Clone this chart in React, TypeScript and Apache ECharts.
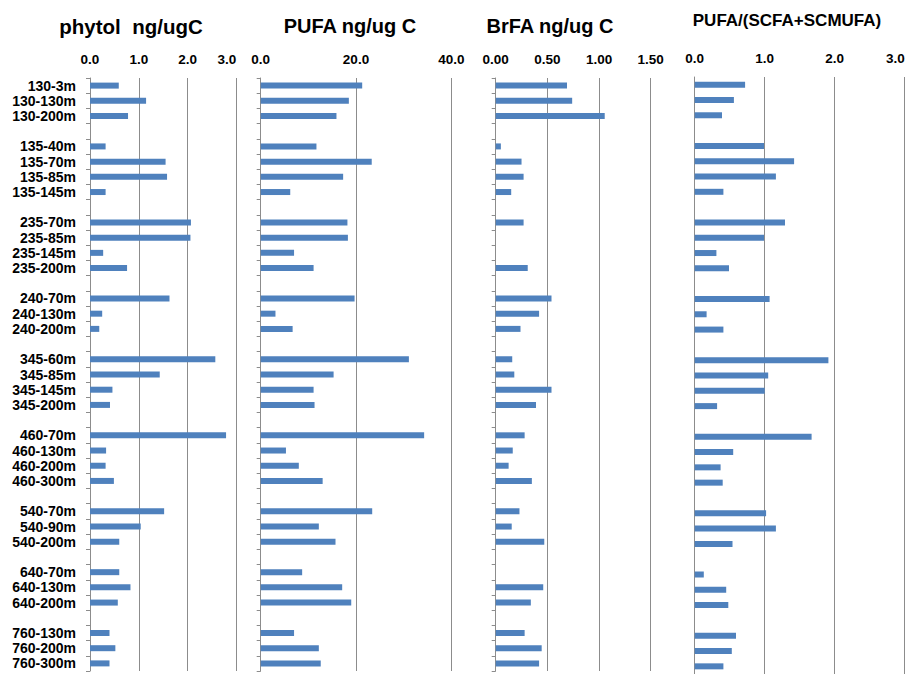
import React, { useEffect, useRef } from "react";
import * as echarts from "echarts";

const categories = [
  "130-3m", "130-130m", "130-200m", "",
  "135-40m", "135-70m", "135-85m", "135-145m", "",
  "235-70m", "235-85m", "235-145m", "235-200m", "",
  "240-70m", "240-130m", "240-200m", "",
  "345-60m", "345-85m", "345-145m", "345-200m", "",
  "460-70m", "460-130m", "460-200m", "460-300m", "",
  "540-70m", "540-90m", "540-200m", "",
  "640-70m", "640-130m", "640-200m", "",
  "760-130m", "760-200m", "760-300m",
];

const phytol = [
  0.59, 1.15, 0.78, null,
  0.32, 1.55, 1.58, 0.32, null,
  2.07, 2.06, 0.27, 0.76, null,
  1.63, 0.25, 0.19, null,
  2.57, 1.43, 0.46, 0.41, null,
  2.79, 0.33, 0.32, 0.49, null,
  1.52, 1.04, 0.6, null,
  0.6, 0.83, 0.57, null,
  0.4, 0.52, 0.4,
];

const pufa = [
  21.3, 18.5, 15.9, null,
  11.7, 23.3, 17.3, 6.2, null,
  18.2, 18.3, 7.0, 11.1, null,
  19.7, 3.1, 6.7, null,
  31.1, 15.3, 11.1, 11.3, null,
  34.3, 5.3, 8.0, 13.0, null,
  23.4, 12.2, 15.7, null,
  8.7, 17.1, 19.0, null,
  7.0, 12.2, 12.6,
];

const brfa = [
  0.69, 0.74, 1.055, null,
  0.05, 0.25, 0.27, 0.15, null,
  0.27, null, null, 0.31, null,
  0.54, 0.42, 0.24, null,
  0.16, 0.18, 0.54, 0.39, null,
  0.28, 0.165, 0.125, 0.35, null,
  0.23, 0.155, 0.47, null,
  null, 0.46, 0.34, null,
  0.28, 0.445, 0.42,
];

const ratio = [
  0.72, 0.56, 0.39, null,
  0.99, 1.42, 1.16, 0.41, null,
  1.29, 0.99, 0.31, 0.49, null,
  1.07, 0.17, 0.41, null,
  1.91, 1.05, 1.0, 0.32, null,
  1.67, 0.55, 0.37, 0.4, null,
  1.02, 1.16, 0.54, null,
  0.13, 0.45, 0.48, null,
  0.59, 0.53, 0.41,
];

const titles = ["phytol  ng/ugC", "PUFA ng/ug C", "BrFA ng/ug C", "PUFA/(SCFA+SCMUFA)"];

const FONT = "'Liberation Sans', Arial, sans-serif";
const BAR = "#4F81BD";
const GRID = "#8c8c8c";

export default function App() {
  const ref = useRef<HTMLDivElement>(null);
  useEffect(() => {
    if (!ref.current) return;
    const chart = echarts.init(ref.current, null, { renderer: "svg" });

    const grids = [
      { left: 90, top: 78, width: 146.3, height: 593 },
      { left: 260.7, top: 78, width: 190.6, height: 593 },
      { left: 495.7, top: 78, width: 155, height: 593 },
      { left: 694.7, top: 77, width: 210, height: 601 },
    ];
    const xSpecs = [
      { max: 3, interval: 1, digits: 1, alignMax: "right" },
      { max: 40, interval: 20, digits: 1, alignMax: undefined },
      { max: 1.5, interval: 0.5, digits: 2, alignMax: undefined },
      { max: 3, interval: 1, digits: 1, alignMax: "right" },
    ];
    const seriesData = [phytol, pufa, brfa, ratio];

    const option: any = {
      animation: false,
      backgroundColor: "#ffffff",
      grid: grids.map((g) => ({ ...g, containLabel: false })),
      xAxis: xSpecs.map((s, i) => ({
        type: "value",
        gridIndex: i,
        position: "top",
        min: 0,
        max: s.max,
        interval: s.interval,
        axisLine: { show: false },
        axisTick: { show: false },
        splitLine: { show: true, lineStyle: { color: GRID, width: 1 } },
        axisLabel: {
          show: true,
          margin: 12,
          color: "#000",
          fontSize: 13.5,
          fontWeight: "bold",
          fontFamily: FONT,
          formatter: (v: number) => v.toFixed(s.digits),
          alignMaxLabel: s.alignMax,
        },
      })),
      yAxis: [0, 1, 2, 3].map((i) => ({
        type: "category",
        gridIndex: i,
        inverse: true,
        data: categories,
        boundaryGap: true,
        axisLine: { show: true, lineStyle: { color: GRID, width: 1 } },
        axisTick: {
          show: i < 3,
          length: 4,
          inside: false,
          alignWithLabel: false,
          interval: 0,
          lineStyle: { color: GRID },
        },
        splitLine: { show: false },
        axisLabel: {
          show: i === 0,
          interval: 0,
          margin: 14,
          color: "#000",
          fontSize: 14,
          fontWeight: "bold",
          fontFamily: FONT,
        },
      })),
      series: seriesData.map((d, i) => ({
        type: "bar",
        name: titles[i],
        xAxisIndex: i,
        yAxisIndex: i,
        data: d,
        barWidth: 6,
        itemStyle: { color: BAR },
        silent: true,
      })),
      graphic: [
        { x: 131, y: 26, size: 20.5, text: titles[0] },
        { x: 350, y: 26, size: 20, text: titles[1] },
        { x: 550, y: 26, size: 20, text: titles[2] },
        { x: 787, y: 20, size: 17, text: titles[3] },
      ].map((t) => ({
        type: "text",
        x: t.x,
        y: t.y,
        style: {
          text: t.text,
          fill: "#000",
          fontSize: t.size,
          fontWeight: "bold",
          fontFamily: FONT,
          align: "center",
          verticalAlign: "middle",
          textAlign: "center",
          textVerticalAlign: "middle",
        },
      })),
    };
    chart.setOption(option);
    return () => chart.dispose();
  }, []);
  return (
    <div
      ref={ref}
      style={{ position: "fixed", left: 0, top: 0, width: 916, height: 674, background: "#fff" }}
    />
  );
}
